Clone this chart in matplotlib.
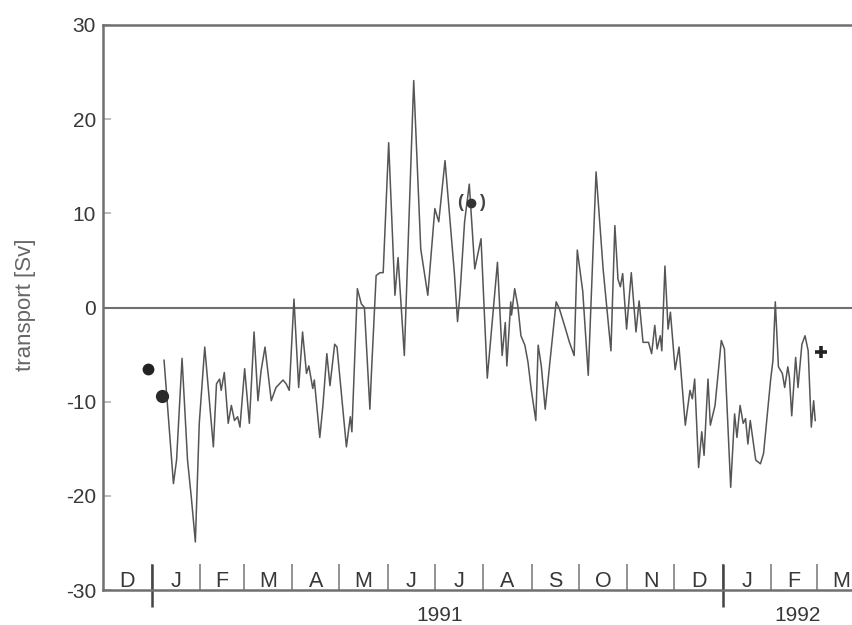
import numpy as np
import matplotlib.pyplot as plt
from matplotlib.transforms import blended_transform_factory

plt.rcParams['font.family'] = ['Liberation Sans', 'DejaVu Sans']
plt.rcParams['axes.unicode_minus'] = False

# transport series, days counted from 1 Jan 1991
day = [8, 14, 16, 19.5, 23, 25.5, 28, 30.5, 34, 39.5, 41.5, 43.5, 44.5, 46.5,
       49, 51, 53, 55, 56.5, 59.5, 62.5, 65.5, 68, 70, 72.5, 76.5, 79.5, 84,
       86, 88, 91, 94, 96.5, 99, 100.5, 103, 104, 107.5, 109.5, 112, 114, 117,
       118.5, 124.5, 127, 128, 131.5, 134, 136, 139.5, 140.5, 143.5, 146, 148,
       151.5, 155.5, 157.5, 161.5, 167.5, 172, 176.5, 181, 183.5, 187.5, 193.5,
       195.5, 197, 200, 203, 206.5, 210.5, 214.5, 221, 224, 226, 227, 229.5,
       230, 232, 234, 236, 238.5, 240.5, 242.5, 245.5, 247, 249, 251.5, 254.5,
       258.5, 260.5, 264, 267, 270, 272, 275.5, 279, 284, 288.5, 293.5, 296,
       298, 299.5, 301, 303.5, 306.5, 309.5, 311.5, 314, 317.5, 319.5, 321.5,
       323, 325, 326, 328, 330, 331.5, 334.5, 337, 341, 344, 345.5, 347, 349.5,
       351.5, 353, 355.5, 357, 360, 364, 366, 370, 372.5, 374, 376, 378, 379.5,
       381, 382.5, 386, 389, 391, 395.5, 397, 398.5, 400.5, 403, 404.5, 406.5,
       407.5, 409, 411.5, 413, 415.5, 417.5, 419.5, 421.5, 423, 424]
transport = [-5.6, -18.7, -16.2, -5.4, -16.2, -20.3, -24.9, -12.3, -4.2, -14.8,
             -8.1, -7.6, -8.8, -6.9, -12.3, -10.4, -12.0, -11.6, -12.7, -6.5,
             -12.3, -2.6, -9.9, -6.7, -4.2, -9.9, -8.5, -7.7, -8.1, -8.8, 0.9,
             -8.5, -2.6, -7.0, -6.2, -8.6, -7.7, -13.8, -10.4, -4.9, -8.3, -3.9,
             -4.2, -14.8, -11.6, -13.2, 2.0, 0.4, 0.0, -10.8, -6.9, 3.4, 3.7,
             3.7, 17.5, 1.3, 5.3, -5.1, 24.1, 6.2, 1.3, 10.5, 9.1, 15.6, 3.6,
             -1.5, 1.3, 9.1, 13.1, 4.1, 7.3, -7.5, 4.8, -5.1, -1.6, -6.2, 0.6,
             -0.8, 2.0, 0.2, -3.0, -4.0, -5.8, -8.6, -12.0, -4.0, -6.2, -10.8,
             -5.8, 0.6, -0.1, -2.0, -3.7, -5.1, 6.1, 1.7, -7.2, 14.4, 4.1, -4.6,
             8.7, 3.0, 2.2, 3.6, -2.3, 3.7, -2.6, 0.7, -3.7, -3.7, -4.9, -1.9,
             -4.4, -3.0, -4.6, 4.4, -2.3, -0.5, -6.6, -4.2, -12.5, -8.8, -9.7,
             -7.6, -17.0, -13.2, -15.7, -7.6, -12.5, -10.4, -3.5, -4.4, -19.1,
             -11.3, -13.8, -10.4, -12.3, -11.8, -14.5, -12.0, -16.2, -16.6,
             -15.5, -7.7, -5.6, 0.6, -6.3, -7.0, -8.5, -6.3, -7.4, -11.5, -5.3,
             -8.5, -3.9, -3.0, -4.6, -12.7, -9.9, -12.0]

# single estimates shown as symbols
dot_day = [-2.5, 7]
dot_val = [-6.5, -9.4]
paren_day, paren_val = 204, 11.1
plus_day, plus_val = 427.5, -4.7

# month boundaries (days from 1 Jan 1991), Dec 1990 .. Mar 1992
month_start = [-31, 0, 31, 59, 90, 120, 151, 181, 212, 243, 273, 304, 334,
               365, 396, 425, 456]
month_letters = ['D', 'J', 'F', 'M', 'A', 'M', 'J', 'J', 'A', 'S', 'O', 'N',
                 'D', 'J', 'F', 'M']
year_bounds = [0, 365]
year_labels = ['1991', '1992']
year_label_day = [184, 413]

grey = '#707070'
text_col = '#383838'

fig = plt.figure(figsize=(8.53, 6.25), dpi=100)
ax = fig.add_axes([103 / 853, 35 / 625, 767 / 853, 565 / 625])

ax.plot(day, transport, color='#555555', lw=1.1, zorder=3)
ax.axhline(0, color=grey, lw=1.5, zorder=2)

ax.plot(dot_day[0], dot_val[0], 'o', color='#222222', ms=7.5, zorder=4)
ax.plot(dot_day[1], dot_val[1], 'o', color='#2a2a2a', ms=8.5, zorder=4)
ax.plot(paren_day, paren_val, 'o', color='#333333', ms=6, zorder=4)
for sign, p in [(-1, '('), (1, ')')]:
    ax.annotate(p, (paren_day, paren_val), xytext=(sign * 8, 0),
                textcoords='offset points', ha='center', va='center',
                fontsize=13, fontweight='bold', color='#444444', zorder=4)
ax.plot(plus_day, plus_val, '+', color='#222222', ms=8, mew=2.6, zorder=4)

ax.set_xlim(-31, 459)
ax.set_ylim(-30, 30)

for side in ['left', 'top', 'bottom']:
    ax.spines[side].set_color(grey)
    ax.spines[side].set_linewidth(1.8)
ax.spines['right'].set_visible(False)

ax.set_xticks([])
ax.set_yticks([-30, -20, -10, 0, 10, 20, 30])
ax.tick_params(axis='y', direction='in', length=6, width=1.2, color='#b0b0b0',
               labelsize=15, labelcolor=text_col, pad=5)

# month divisions along the bottom axis
ax.vlines(month_start[1:-1], -30, -27.2, color='#8a8a8a', lw=1.3,
          clip_on=False)
ax.vlines(year_bounds, -31.8, -27.2, color='#444444', lw=1.8, clip_on=False)
for i, m in enumerate(month_letters):
    mid = (month_start[i] + month_start[i + 1]) / 2
    ax.text(mid, -29.65, m, ha='center', va='baseline', fontsize=15.5,
            color=text_col, clip_on=False)

trans = blended_transform_factory(ax.transData, fig.transFigure)
for d, lab in zip(year_label_day, year_labels):
    ax.text(d, 1 - 606 / 625, lab, transform=trans, ha='center', va='top',
            fontsize=15, color=text_col, clip_on=False)

fig.text(26 / 853, 0.512, 'transport [Sv]', rotation=90, ha='center',
         va='center', fontsize=16, color='#666666')

fig.savefig('out.png', dpi=100)
